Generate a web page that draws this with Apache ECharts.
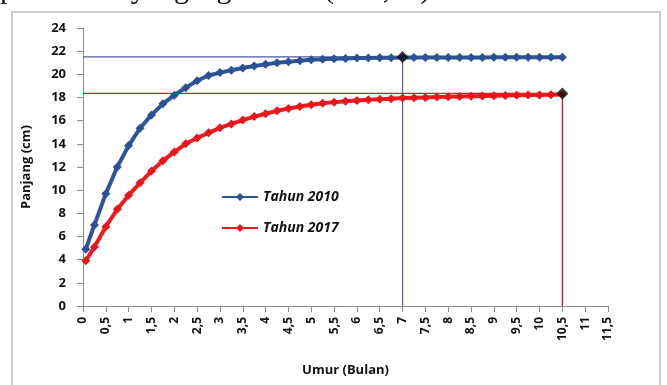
<!DOCTYPE html>
<html>
<head>
<meta charset="utf-8">
<script src="https://cdn.jsdelivr.net/npm/echarts@6/dist/echarts.min.js"></script>
<style>
  html, body { margin: 0; padding: 0; background: #fff; }
  #chart { width: 667px; height: 385px; }
</style>
</head>
<body>
<div id="chart"></div>
<script>
// Age in months at each measurement
const months = [0.06, 0.25, 0.5, 0.75, 1, 1.25, 1.5, 1.75, 2, 2.25, 2.5, 2.75, 3, 3.25, 3.5, 3.75,
  4, 4.25, 4.5, 4.75, 5, 5.25, 5.5, 5.75, 6, 6.25, 6.5, 6.75, 7, 7.25, 7.5, 7.75, 8, 8.25, 8.5,
  8.75, 9, 9.25, 9.5, 9.75, 10, 10.25, 10.5];

// Length (cm), 2010 cohort
const length2010 = [4.9, 7.0, 9.7, 12.0, 13.85, 15.35, 16.5, 17.45, 18.2, 18.85, 19.45, 19.9, 20.15,
  20.35, 20.55, 20.72, 20.86, 21.0, 21.09, 21.18, 21.25, 21.3, 21.34, 21.37, 21.4, 21.42, 21.43,
  21.44, 21.45, 21.45, 21.45, 21.46, 21.46, 21.46, 21.46, 21.46, 21.47, 21.47, 21.47, 21.47, 21.47,
  21.47, 21.47];

// Length (cm), 2017 cohort
const length2017 = [3.9, 5.1, 6.85, 8.35, 9.57, 10.63, 11.65, 12.53, 13.3, 14.0, 14.5, 14.95, 15.38,
  15.72, 16.05, 16.35, 16.6, 16.85, 17.05, 17.22, 17.37, 17.5, 17.6, 17.68, 17.75, 17.8, 17.85,
  17.9, 17.95, 17.98, 18.01, 18.04, 18.07, 18.09, 18.11, 18.13, 18.15, 18.17, 18.19, 18.21, 18.22,
  18.24, 18.26];

// Point where each cohort reaches its maximum length: [month, cm]
const peak2010 = [7, 21.5];
const peak2017 = [10.5, 18.35];

const seriesNames = ['Tahun 2010', 'Tahun 2017'];
const yTicks = { min: 0, max: 24, step: 2 };
const xTicks = { min: 0, max: 11.5, step: 0.5 };

const FONT = '"Open Sans", Lato, sans-serif';

const pair = (xs, ys) => xs.map((x, i) => [x, ys[i]]);
// guide: from the y axis across to the peak, then down to the x axis
const guideH = p => [[xTicks.min, p[1]], p];
const guideV = p => [p, [p[0], yTicks.min]];

const chart = echarts.init(document.getElementById('chart'), null, { renderer: 'canvas' });

chart.setOption({
  backgroundColor: '#ffffff',
  animation: false,
  graphic: [
    {
      type: 'rect', z: 0,
      shape: { x: 12, y: 12, width: 648, height: 400 },
      style: { fill: 'none', stroke: '#bdbdbd', lineWidth: 1.5 }
    },
    {
      type: 'text', z: 1, left: 0, top: -25,
      style: {
        text: 'perbedaan yang signifikan (P<0,05)',
        font: '30px "Liberation Serif", serif',
        fill: '#111'
      }
    }
  ],
  grid: { left: 83, right: 59, top: 28, bottom: 79 },
  legend: {
    data: seriesNames,
    orient: 'vertical',
    left: 216,
    top: 185,
    itemWidth: 36,
    itemHeight: 10,
    itemGap: 17,
    textStyle: { fontFamily: FONT, fontStyle: 'italic', fontWeight: 'bold', fontSize: 14, color: '#111' }
  },
  xAxis: {
    type: 'value',
    min: xTicks.min, max: xTicks.max, interval: xTicks.step,
    name: 'Umur (Bulan)',
    nameLocation: 'middle',
    nameGap: 58,
    nameTextStyle: { fontFamily: FONT, fontWeight: 'bold', fontSize: 13, color: '#111' },
    axisLine: { lineStyle: { color: '#8a8a8a', width: 1 } },
    axisTick: { show: true, length: 6, lineStyle: { color: '#8a8a8a' } },
    splitLine: { show: false },
    axisLabel: {
      rotate: 90,
      margin: 11,
      fontFamily: FONT, fontWeight: 'bold', fontSize: 12, color: '#111',
      showMinLabel: true, showMaxLabel: true,
      formatter: v => String(v).replace('.', ',')
    }
  },
  yAxis: {
    type: 'value',
    min: yTicks.min, max: yTicks.max, interval: yTicks.step,
    name: 'Panjang (cm)',
    nameLocation: 'middle',
    nameGap: 50,
    nameRotate: 90,
    nameTextStyle: { fontFamily: FONT, fontWeight: 'bold', fontSize: 13, color: '#111' },
    axisLine: { show: true, lineStyle: { color: '#8a8a8a', width: 1 } },
    axisTick: { show: true, length: 6, lineStyle: { color: '#8a8a8a' } },
    splitLine: { show: false },
    axisLabel: { margin: 17, fontFamily: FONT, fontWeight: 'bold', fontSize: 13, color: '#111' }
  },
  series: [
    {
      type: 'line', silent: true, z: 1, symbol: 'none',
      data: guideH(peak2010),
      lineStyle: { color: '#4b5aa3', width: 1.2 }
    },
    {
      type: 'line', silent: true, z: 1, symbol: 'none',
      data: guideV(peak2010),
      lineStyle: { color: '#5a5aa8', width: 1.2 }
    },
    {
      type: 'line', silent: true, z: 1, symbol: 'none',
      data: guideH(peak2017),
      lineStyle: { color: '#d0202a', width: 1.2 }
    },
    {
      type: 'line', silent: true, z: 1, symbol: 'none',
      data: guideV(peak2017),
      lineStyle: { color: '#a8142a', width: 1.2 }
    },
    {
      name: seriesNames[0],
      type: 'line', z: 3,
      data: pair(months, length2010),
      symbol: 'diamond', symbolSize: 9,
      color: '#2d5596',
      itemStyle: { color: '#2a5193' },
      lineStyle: { color: '#2d5596', width: 4 }
    },
    {
      name: seriesNames[1],
      type: 'line', z: 3,
      data: pair(months, length2017),
      symbol: 'diamond', symbolSize: 9,
      color: '#ec1b1f',
      itemStyle: { color: '#e8161b' },
      lineStyle: { color: '#ec1b1f', width: 4 }
    },
    {
      type: 'scatter', silent: true, z: 5,
      data: [peak2010, peak2017],
      symbol: 'diamond', symbolSize: 12,
      itemStyle: { color: '#111' }
    }
  ]
});
</script>
</body>
</html>
